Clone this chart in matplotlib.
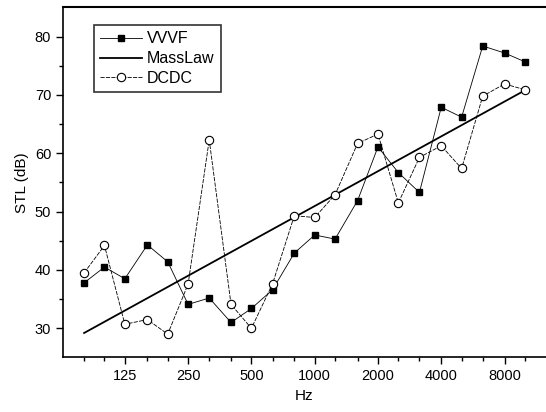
import matplotlib
matplotlib.use("Agg")
import matplotlib.pyplot as plt
from matplotlib.ticker import FixedLocator, NullFormatter, FixedFormatter

plt.rcParams['font.family'] = ['Liberation Sans', 'DejaVu Sans']

# 1/3 octave bands (Hz)
freqs = [80, 100, 125, 160, 200, 250, 315, 400, 500, 630, 800, 1000,
         1250, 1600, 2000, 2500, 3150, 4000, 5000, 6300, 8000, 10000]
vvvf = [37.8, 40.5, 38.5, 44.3, 41.4, 34.1, 35.2, 31.0, 33.4, 36.6, 42.9, 46.0,
        45.3, 51.9, 61.1, 56.7, 53.3, 67.9, 66.2, 78.4, 77.2, 75.7]
dcdc = [39.5, 44.2, 30.7, 31.5, 29.0, 37.6, 62.3, 34.1, 30.0, 37.6, 49.3, 49.0,
        52.9, 61.7, 63.3, 51.5, 59.3, 61.3, 57.4, 69.8, 71.9, 70.9]
masslaw_hz = [80, 10000]
masslaw_db = [29.2, 70.8]
major_ticks = [125, 250, 500, 1000, 2000, 4000, 8000]
major_labels = ['125', '250', '500', '1000', '2000', '4000', '8000']

fig = plt.figure(figsize=(5.46, 4.12), dpi=100)
ax = fig.add_axes([0.1154, 0.1323, 0.8846, 0.8495])

ax.plot(freqs, vvvf, color='black', lw=0.6, marker='s', ms=5,
        mfc='black', mec='black', label='VVVF')
ax.plot(masslaw_hz, masslaw_db, color='black', lw=1.3, label='MassLaw')
ax.plot(freqs, dcdc, color='black', lw=0.6, ls=(0, (5, 1.5)), marker='o', ms=6,
        mfc='white', mec='black', mew=0.8, label='DCDC')

ax.set_xscale('log')
ax.set_xlim(63.5, 12600)
ax.set_ylim(25, 85)

ax.xaxis.set_major_locator(FixedLocator(major_ticks))
ax.xaxis.set_major_formatter(FixedFormatter(major_labels))
ax.xaxis.set_minor_locator(FixedLocator([f for f in freqs if f not in major_ticks]))
ax.xaxis.set_minor_formatter(NullFormatter())
ax.set_yticks([30, 40, 50, 60, 70, 80])
ax.set_yticks([35, 45, 55, 65, 75], minor=True)

ax.tick_params(which='major', direction='out', length=5, width=1, labelsize=10.5)
ax.tick_params(which='minor', direction='out', length=3, width=1)

ax.spines['right'].set_visible(False)
ax.spines['left'].set_linewidth(1.2)
ax.spines['bottom'].set_linewidth(1.2)
ax.spines['top'].set_linewidth(1.5)

ax.set_xlabel('Hz', fontsize=11)
ax.set_ylabel('STL (dB)', fontsize=11)

leg = ax.legend(loc='upper left', bbox_to_anchor=(0.064, 0.95), borderaxespad=0,
                fontsize=11.5, frameon=True, fancybox=False, handlelength=2.6,
                labelspacing=0.3, borderpad=0.4, handletextpad=0.3)
leg.get_frame().set_edgecolor('black')
leg.get_frame().set_linewidth(1.2)

fig.savefig('out.png', dpi=100)
